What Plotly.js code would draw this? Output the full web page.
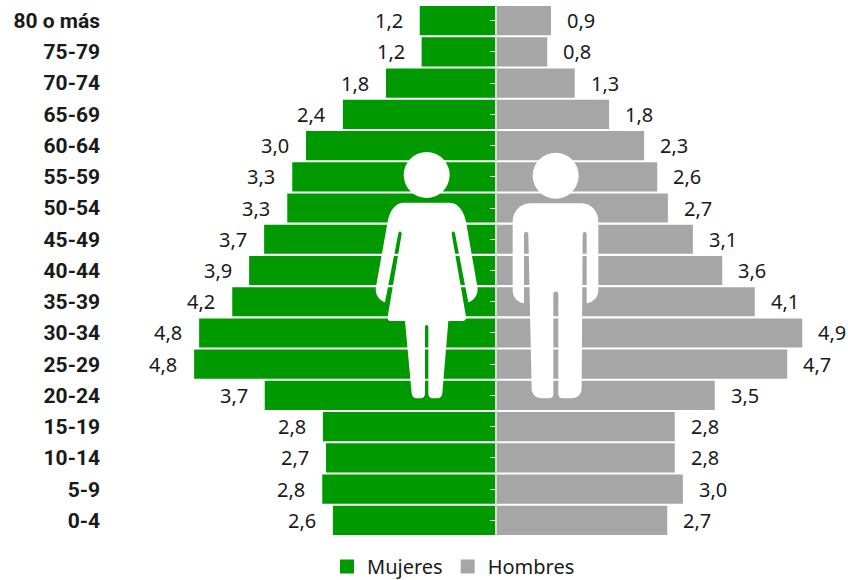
<!DOCTYPE html>
<html><head><meta charset="utf-8">
<script src="https://cdn.plot.ly/plotly-3.0.1.min.js"></script>
<style>html,body{margin:0;padding:0;background:#fff}#c{width:848px;height:580px}</style>
</head><body><div id="c"></div>
<script>
const categories=["80 o más","75-79","70-74","65-69","60-64","55-59","50-54","45-49","40-44","35-39","30-34","25-29","20-24","15-19","10-14","5-9","0-4"];
const mujeres=[1.22,1.19,1.76,2.45,3.04,3.26,3.34,3.71,3.95,4.22,4.75,4.83,3.70,2.77,2.72,2.78,2.61];
const hombres=[0.88,0.82,1.26,1.81,2.37,2.58,2.75,3.15,3.62,4.14,4.90,4.66,3.50,2.86,2.86,2.99,2.74];
const mujeresLabels=["1,2","1,2","1,8","2,4","3,0","3,3","3,3","3,7","3,9","4,2","4,8","4,8","3,7","2,8","2,7","2,8","2,6"];
const hombresLabels=["0,9","0,8","1,3","1,8","2,3","2,6","2,7","3,1","3,6","4,1","4,9","4,7","3,5","2,8","2,8","3,0","2,7"];

const W=848,H=580,L=101,R=20,T=5,B=44,PX=62.5,CX=496,EDGE=1/PX;
const xRange=[-(CX-L)/PX,(W-R-CX)/PX];
const FONT='"Noto Sans", sans-serif';

const womanPath="M130 188H270C295 188 312 215 318 245L352 440C356 460 345 480 325 487L285 280C283 272 275 272 275 282L318 530C319 538 315 543 308 543H265L247 760C246 770 240 775 232 775H218C210 775 205 770 205 760V562C205 553 195 553 195 562V760C195 770 190 775 182 775H170C162 775 156 770 155 760L135 543H92C85 543 82 538 83 530L125 282C125 272 117 272 115 280L75 487C55 480 44 460 48 440L83 245C88 215 105 188 130 188Z";
const manPath="M510 190H665C695 190 715 215 715 245V450C715 472 700 487 680 490V285C680 272 668 272 668 285L665 745C665 763 652 775 635 775H608C600 775 595 770 595 762V462C595 452 580 452 580 462V762C580 770 575 775 567 775H545C528 775 515 763 515 745L505 285C505 272 492 272 492 285V490C472 487 458 472 458 450V245C458 215 480 190 510 190Z";
const svg='<svg xmlns="http://www.w3.org/2000/svg" width="750" height="810" viewBox="0 0 750 810"><g fill="#fff"><circle cx="200" cy="105" r="69"/><circle cx="587" cy="107" r="69"/><path d="'+womanPath+'"/><path d="'+manPath+'"/></g></svg>';

const pw=W-L-R, ph=H-T-B;
const annots=[];
categories.forEach((c,i)=>{
  annots.push({x:-mujeres[i],y:c,xref:'x',yref:'y',text:mujeresLabels[i],showarrow:false,xanchor:'right',yanchor:'middle',xshift:-15,yshift:0,font:{family:FONT,size:20,color:'#1a1a1a'}});
  annots.push({x:hombres[i],y:c,xref:'x',yref:'y',text:hombresLabels[i],showarrow:false,xanchor:'left',yanchor:'middle',xshift:14,yshift:0,font:{family:FONT,size:20,color:'#1a1a1a'}});
});

const traces=[
 {type:'bar',orientation:'h',name:'Mujeres',y:categories,x:mujeres.map(v=>-(v-EDGE)),marker:{color:'#009900',line:{color:'#009900',width:2}},xaxis:'x',yaxis:'y',hoverinfo:'skip'},
 {type:'bar',orientation:'h',name:'Hombres',y:categories,x:hombres.map(v=>v-EDGE),marker:{color:'#A6A6A6',line:{color:'#A6A6A6',width:2}},xaxis:'x',yaxis:'y2',hoverinfo:'skip'}
];
const yCommon={type:'category',categoryorder:'array',categoryarray:categories,range:[16.5,-0.5],fixedrange:true,showgrid:false,zeroline:false};
const layout={
 width:W,height:H,margin:{l:L,r:R,t:T,b:B,pad:0,autoexpand:false},paper_bgcolor:'#fff',plot_bgcolor:'#fff',
 bargap:0.13,barmode:'overlay',
 xaxis:{range:xRange,visible:false,fixedrange:true},
 yaxis:Object.assign({},yCommon,{showline:false,ticks:'',ticklen:0,tickfont:{family:'Roboto, sans-serif',size:21,color:'#1a1a1a',weight:'bold'}}),
 yaxis2:Object.assign({},yCommon,{overlaying:'y',anchor:'free',position:(CX-L)/pw,side:'left',showticklabels:false,showline:true,linecolor:'#D9D9D9',linewidth:2,ticks:'outside',ticklen:5,tickwidth:1,tickcolor:'#E6E6E6'}),
 legend:{orientation:'h',x:327/W,xref:'container',y:1-547/H,yref:'container',xanchor:'left',yanchor:'top',font:{family:FONT,size:20,color:'#1a1a1a'},traceorder:'normal'},
 annotations:annots,
 images:[{source:'data:image/svg+xml;charset=utf-8,'+encodeURIComponent(svg),xref:'paper',yref:'paper',x:(360-L)/pw,y:1-(140-T)/ph,sizex:250/pw,sizey:270/ph,xanchor:'left',yanchor:'top',sizing:'stretch',layer:'above'}]
};
Plotly.newPlot('c',traces,layout,{displayModeBar:false,staticPlot:true});
</script></body></html>
